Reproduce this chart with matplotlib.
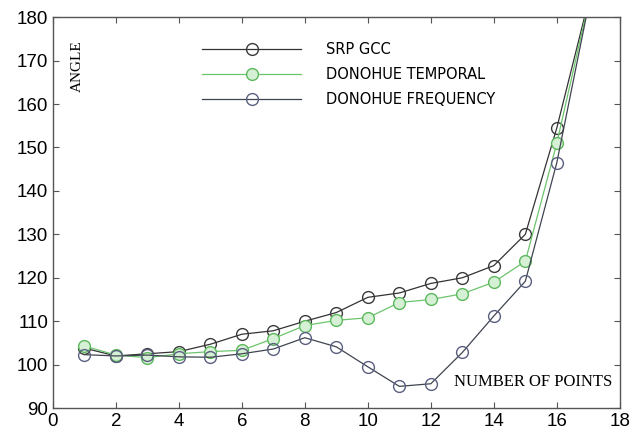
import matplotlib.pyplot as plt

# number of points vs. estimated angle for the three methods
points = [1, 2, 3, 4, 5, 6, 7, 8, 9, 10, 11, 12, 13, 14, 15, 16, 17]
srp_gcc = [103.8, 102.0, 102.5, 103.0, 104.7, 107.0, 107.8, 110.0, 112.0,
           115.5, 116.5, 118.7, 120.0, 122.8, 130.0, 154.5, 183.5]
donohue_temporal = [104.3, 102.2, 101.6, 102.5, 103.0, 103.3, 106.0, 109.0, 110.2,
                    110.8, 114.3, 115.0, 116.3, 119.0, 123.8, 151.0, 183.0]
donohue_frequency = [102.3, 102.0, 102.2, 101.8, 101.7, 102.5, 103.6, 106.2, 104.1,
                     99.5, 95.0, 95.6, 102.8, 111.2, 119.2, 146.5, 182.5]

xticks = [0, 2, 4, 6, 8, 10, 12, 14, 16, 18]
yticks = [90, 100, 110, 120, 130, 140, 150, 160, 170, 180]

fig = plt.figure(figsize=(6.37, 4.30), dpi=100)
ax = fig.add_axes([0.083, 0.051, 0.890, 0.909])

ax.plot(points, srp_gcc, color='#333333', lw=0.9, marker='o', ms=8.5,
        mfc='none', mec='#3a3a3a', mew=1.0, label='SRP GCC')
ax.plot(points, donohue_temporal, color='#6cc46c', lw=0.9, marker='o', ms=8.5,
        mfc='#d6f0d6', mec='#5cb85c', mew=1.0, label='DONOHUE TEMPORAL')
ax.plot(points, donohue_frequency, color='#3f4450', lw=0.9, marker='o', ms=8.5,
        mfc='none', mec='#5a5f80', mew=1.0, label='DONOHUE FREQUENCY')

ax.set_xlim(0, 18)
ax.set_ylim(90, 180)
ax.set_xticks(xticks)
ax.set_yticks(yticks)
ax.tick_params(direction='in', top=True, right=True, length=4, width=0.8,
               color='#555555', labelsize=13.5, pad=3.5)
for lab in ax.get_xticklabels() + ax.get_yticklabels():
    lab.set_family('Liberation Sans')
for s in ax.spines.values():
    s.set_color('#555555')
    s.set_linewidth(1.0)

leg = ax.legend(loc='upper left', bbox_to_anchor=(0.24, 0.97), frameon=False,
                handlelength=6.8, handletextpad=1.7, labelspacing=0.7,
                prop={'family': 'DejaVu Sans', 'size': 10.5})

ax.text(0.043, 0.875, 'ANGLE', transform=ax.transAxes, rotation=90,
        family='Liberation Serif', fontsize=11, ha='center', va='center')
ax.text(0.707, 0.066, 'NUMBER OF POINTS', transform=ax.transAxes,
        family='Liberation Serif', fontsize=12, ha='left', va='center')

fig.savefig('out.png', dpi=100)
